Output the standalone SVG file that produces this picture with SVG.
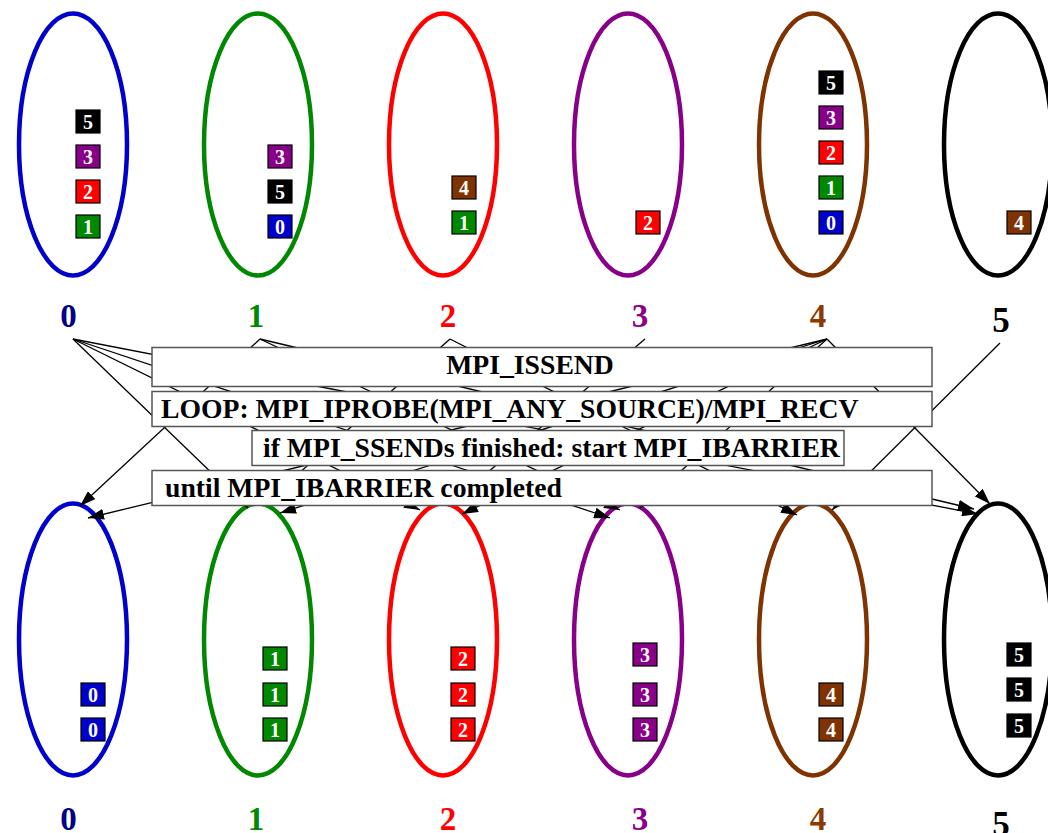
<svg xmlns="http://www.w3.org/2000/svg" width="1048" height="833" viewBox="0 0 1048 833">
  <style>
    .ell { fill: none; stroke-width: 4.5; }
    .lbl { font-family: "Liberation Serif", "Times New Roman", serif; font-weight: bold; font-size: 33px; text-anchor: middle; }
    .sq rect { stroke: #000; stroke-width: 1.2; }
    .sq text { font-family: "Liberation Serif", "Times New Roman", serif; font-weight: bold; font-size: 20px; fill: #fff; text-anchor: middle; }
    .box rect { fill: #fff; stroke: #555; stroke-width: 1.5; }
    .box text { font-family: "Liberation Serif", "Times New Roman", serif; font-weight: bold; font-size: 27.7px; fill: #000; }
    .edge line { stroke: #000; stroke-width: 1.3; marker-end: url(#ah); }
    .c0 { fill: #0000cc; } .c1 { fill: #008800; } .c2 { fill: #ff0000; }
    .c3 { fill: #880088; } .c4 { fill: #7f3300; } .c5 { fill: #000000; }
  </style>
  <defs>
    <marker id="ah" viewBox="0 0 16 11" refX="16" refY="5.5" markerWidth="16" markerHeight="11" markerUnits="userSpaceOnUse" orient="auto">
      <path d="M0,0 L16,5.5 L0,11 z" fill="#000"/>
    </marker>
  </defs>

  <!-- processes before the exchange -->
  <g id="top0">
    <ellipse class="ell" cx="73" cy="144.5" rx="54" ry="131" stroke="#0000cc"/>
    <g class="sq"><rect x="76" y="110" width="24" height="23" class="c5"/><text x="88" y="128.5">5</text></g>
    <g class="sq"><rect x="76" y="145" width="24" height="23" class="c3"/><text x="88" y="163.5">3</text></g>
    <g class="sq"><rect x="76" y="180" width="24" height="23" class="c2"/><text x="88" y="198.5">2</text></g>
    <g class="sq"><rect x="76" y="215" width="24" height="23" class="c1"/><text x="88" y="233.5">1</text></g>
    <text class="lbl" x="68.5" y="327" fill="#000088">0</text>
  </g>
  <g id="top1">
    <ellipse class="ell" cx="258" cy="144.5" rx="54" ry="131" stroke="#008800"/>
    <g class="sq"><rect x="268" y="145" width="24" height="23" class="c3"/><text x="280" y="163.5">3</text></g>
    <g class="sq"><rect x="268" y="180" width="24" height="23" class="c5"/><text x="280" y="198.5">5</text></g>
    <g class="sq"><rect x="268" y="215" width="24" height="23" class="c0"/><text x="280" y="233.5">0</text></g>
    <text class="lbl" x="256" y="327" fill="#008800">1</text>
  </g>
  <g id="top2">
    <ellipse class="ell" cx="443" cy="144.5" rx="54" ry="131" stroke="#ff0000"/>
    <g class="sq"><rect x="452" y="176" width="24" height="23" class="c4"/><text x="464" y="194.5">4</text></g>
    <g class="sq"><rect x="452" y="211" width="24" height="23" class="c1"/><text x="464" y="229.5">1</text></g>
    <text class="lbl" x="448" y="327" fill="#ff0000">2</text>
  </g>
  <g id="top3">
    <ellipse class="ell" cx="628" cy="144.5" rx="54" ry="131" stroke="#880088"/>
    <g class="sq"><rect x="636" y="211" width="24" height="23" class="c2"/><text x="648" y="229.5">2</text></g>
    <text class="lbl" x="640" y="327" fill="#880088">3</text>
  </g>
  <g id="top4">
    <ellipse class="ell" cx="813" cy="144.5" rx="54" ry="131" stroke="#7f3300"/>
    <g class="sq"><rect x="819" y="71" width="24" height="23" class="c5"/><text x="831" y="89.5">5</text></g>
    <g class="sq"><rect x="819" y="106" width="24" height="23" class="c3"/><text x="831" y="124.5">3</text></g>
    <g class="sq"><rect x="819" y="141" width="24" height="23" class="c2"/><text x="831" y="159.5">2</text></g>
    <g class="sq"><rect x="819" y="176" width="24" height="23" class="c1"/><text x="831" y="194.5">1</text></g>
    <g class="sq"><rect x="819" y="211" width="24" height="23" class="c0"/><text x="831" y="229.5">0</text></g>
    <text class="lbl" x="818" y="327" fill="#8b3a00">4</text>
  </g>
  <g id="top5">
    <ellipse class="ell" cx="998" cy="144.5" rx="54" ry="131" stroke="#000"/>
    <g class="sq"><rect x="1007" y="211" width="24" height="23" class="c4"/><text x="1019" y="229.5">4</text></g>
    <text class="lbl" x="1001" y="332" fill="#000" style="font-size:35px">5</text>
  </g>

  <!-- processes after the exchange -->
  <g id="bot0">
    <ellipse class="ell" cx="73" cy="639.5" rx="54" ry="136" stroke="#0000cc"/>
    <g class="sq"><rect x="81" y="683" width="24" height="23" class="c0"/><text x="93" y="701.5">0</text></g>
    <g class="sq"><rect x="81" y="718" width="24" height="23" class="c0"/><text x="93" y="736.5">0</text></g>
    <text class="lbl" x="68.5" y="830" fill="#000088">0</text>
  </g>
  <g id="bot1">
    <ellipse class="ell" cx="258" cy="639.5" rx="54" ry="136" stroke="#008800"/>
    <g class="sq"><rect x="263" y="647" width="24" height="23" class="c1"/><text x="275" y="665.5">1</text></g>
    <g class="sq"><rect x="263" y="683" width="24" height="23" class="c1"/><text x="275" y="701.5">1</text></g>
    <g class="sq"><rect x="263" y="718" width="24" height="23" class="c1"/><text x="275" y="736.5">1</text></g>
    <text class="lbl" x="256" y="830" fill="#008800">1</text>
  </g>
  <g id="bot2">
    <ellipse class="ell" cx="443" cy="639.5" rx="54" ry="136" stroke="#ff0000"/>
    <g class="sq"><rect x="451" y="647" width="24" height="23" class="c2"/><text x="463" y="665.5">2</text></g>
    <g class="sq"><rect x="451" y="683" width="24" height="23" class="c2"/><text x="463" y="701.5">2</text></g>
    <g class="sq"><rect x="451" y="718" width="24" height="23" class="c2"/><text x="463" y="736.5">2</text></g>
    <text class="lbl" x="448" y="830" fill="#ff0000">2</text>
  </g>
  <g id="bot3">
    <ellipse class="ell" cx="628" cy="639.5" rx="54" ry="136" stroke="#880088"/>
    <g class="sq"><rect x="633" y="643" width="24" height="23" class="c3"/><text x="645" y="661.5">3</text></g>
    <g class="sq"><rect x="633" y="683" width="24" height="23" class="c3"/><text x="645" y="701.5">3</text></g>
    <g class="sq"><rect x="633" y="718" width="24" height="23" class="c3"/><text x="645" y="736.5">3</text></g>
    <text class="lbl" x="640" y="830" fill="#880088">3</text>
  </g>
  <g id="bot4">
    <ellipse class="ell" cx="813" cy="639.5" rx="54" ry="136" stroke="#7f3300"/>
    <g class="sq"><rect x="819" y="683" width="24" height="23" class="c4"/><text x="831" y="701.5">4</text></g>
    <g class="sq"><rect x="819" y="718" width="24" height="23" class="c4"/><text x="831" y="736.5">4</text></g>
    <text class="lbl" x="818" y="830" fill="#8b3a00">4</text>
  </g>
  <g id="bot5">
    <ellipse class="ell" cx="998" cy="639.5" rx="54" ry="136" stroke="#000"/>
    <g class="sq"><rect x="1007" y="643" width="24" height="23" class="c5"/><text x="1019" y="661.5">5</text></g>
    <g class="sq"><rect x="1007" y="678" width="24" height="23" class="c5"/><text x="1019" y="696.5">5</text></g>
    <g class="sq"><rect x="1007" y="714" width="24" height="23" class="c5"/><text x="1019" y="732.5">5</text></g>
    <text class="lbl" x="1001" y="836" fill="#000" style="font-size:35px">5</text>
  </g>

  <!-- messages: sender label to receiver -->
  <g id="connectors" class="edge">
    <line x1="73" y1="339" x2="978" y2="514"/>
    <line x1="73" y1="339" x2="610" y2="518"/>
    <line x1="73" y1="339" x2="420" y2="510"/>
    <line x1="73" y1="339" x2="248" y2="508"/>
    <line x1="260" y1="339" x2="620" y2="510"/>
    <line x1="260" y1="339" x2="974" y2="509"/>
    <line x1="260" y1="339" x2="80" y2="506"/>
    <line x1="450" y1="339" x2="797" y2="515"/>
    <line x1="450" y1="339" x2="262" y2="506"/>
    <line x1="645" y1="339" x2="448" y2="506"/>
    <line x1="827" y1="339" x2="990" y2="504"/>
    <line x1="827" y1="339" x2="640" y2="508"/>
    <line x1="827" y1="339" x2="462" y2="514"/>
    <line x1="827" y1="339" x2="280" y2="513"/>
    <line x1="827" y1="339" x2="88" y2="518"/>
    <line x1="1000" y1="343" x2="832" y2="510"/>
  </g>

  <!-- program steps -->
  <g id="step-issend" class="box">
    <rect x="152" y="347.5" width="780" height="39"/>
    <text x="530" y="374" text-anchor="middle">MPI_ISSEND</text>
  </g>
  <g id="step-loop" class="box">
    <rect x="152" y="391.5" width="780" height="35"/>
    <text x="161" y="418">LOOP: MPI_IPROBE(MPI_ANY_SOURCE)/MPI_RECV</text>
  </g>
  <g id="step-ibarrier" class="box">
    <rect x="252" y="430.5" width="592" height="35"/>
    <text x="263" y="457">if MPI_SSENDs finished: start MPI_IBARRIER</text>
  </g>
  <g id="step-until" class="box">
    <rect x="152" y="470.5" width="780" height="35"/>
    <text x="165" y="497">until MPI_IBARRIER completed</text>
  </g>
</svg>
